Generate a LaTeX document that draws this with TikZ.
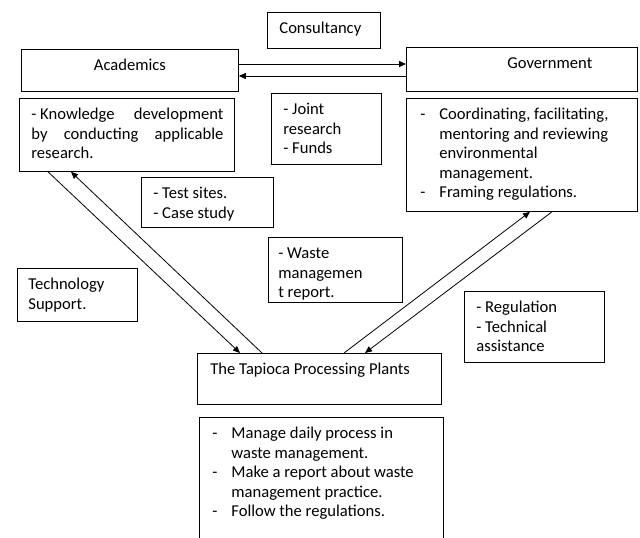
\documentclass[tikz,border=0pt]{standalone}
\usepackage{fontspec}
\setmainfont{Carlito}
\usetikzlibrary{arrows.meta}
\newcommand\bxtext[4]{%
  \parbox[c][#2pt][t]{#1pt}{\setlength\leftskip{#3pt}\setlength\parindent{0pt}\rule{0pt}{21.5pt}#4\par}}
\newcommand\dsh{\hspace*{-19pt}\makebox[19pt][l]{-}}
\begin{document}
\begin{tikzpicture}[x=1pt,y=-1pt,
  bx/.style={draw, line width=0.8pt, inner sep=0pt, anchor=north west,
    font=\fontsize{16.6}{19.5}\selectfont},
  arr/.style={-{Triangle[length=7pt,width=6pt]}, line width=0.8pt}]
\useasboundingbox (0,0) rectangle (640,538);
\clip (0,0) rectangle (640,538);
\node[bx] (cons) at (267,12) {\bxtext{113}{36}{12}{Consultancy}};
\node[bx] (acad) at (21,49) {\bxtext{217}{42}{0}{\centering Academics}};
\node[bx] (gov) at (406,47) {\bxtext{231}{44}{101}{Government}};
\node[bx] (know) at (19,98) {\bxtext{215}{73}{12}{\setlength\rightskip{11pt}- Knowledge\hfill development\\ by\hfill conducting\hfill applicable\\ research.}};
\node[bx] (joint) at (271,93) {\bxtext{110}{71}{12}{- Joint\\ research\\ - Funds}};
\node[bx] (govt) at (406,98) {\bxtext{231}{113}{33}{\dsh Coordinating, facilitating,\\ mentoring and reviewing\\ environmental\\ management.\\ \dsh Framing regulations.}};
\node[bx] (test) at (141,177) {\bxtext{132}{50}{12}{- Test sites.\\ - Case study}};
\node[bx] (waste) at (268,237) {\bxtext{134}{65}{10}{- Waste\\ managemen\\ t report.}};
\node[bx] (tech) at (17,268) {\bxtext{120}{53}{11}{Technology\\ Support.}};
\node[bx] (reg) at (464,291) {\bxtext{140}{71}{12}{- Regulation\\ - Technical\\ assistance}};
\node[bx] (tap) at (197,353) {\bxtext{244}{51}{13}{The Tapioca Processing Plants}};
\node[bx] (plant) at (199,417) {\bxtext{244}{140}{32}{\dsh Manage daily process in\\ waste management.\\ \dsh Make a report about waste\\ management practice.\\ \dsh Follow the regulations.}};
\draw[arr] ([yshift=-15pt]acad.north east) -- ([yshift=-17pt]gov.north west);
\draw[arr] ([yshift=-29pt]gov.north west) -- ([yshift=-27pt]acad.north east);
\draw[arr] ([xshift=29pt]know.south west) -- ([xshift=43pt]tap.north west);
\draw[arr] ([xshift=65pt]tap.north west) -- ([xshift=52pt]know.south west);
\draw[arr] ([xshift=147pt]tap.north west) -- ([xshift=124pt]govt.south west);
\draw[arr] ([xshift=146pt]govt.south west) -- ([xshift=168pt]tap.north west);
\end{tikzpicture}
\end{document}
